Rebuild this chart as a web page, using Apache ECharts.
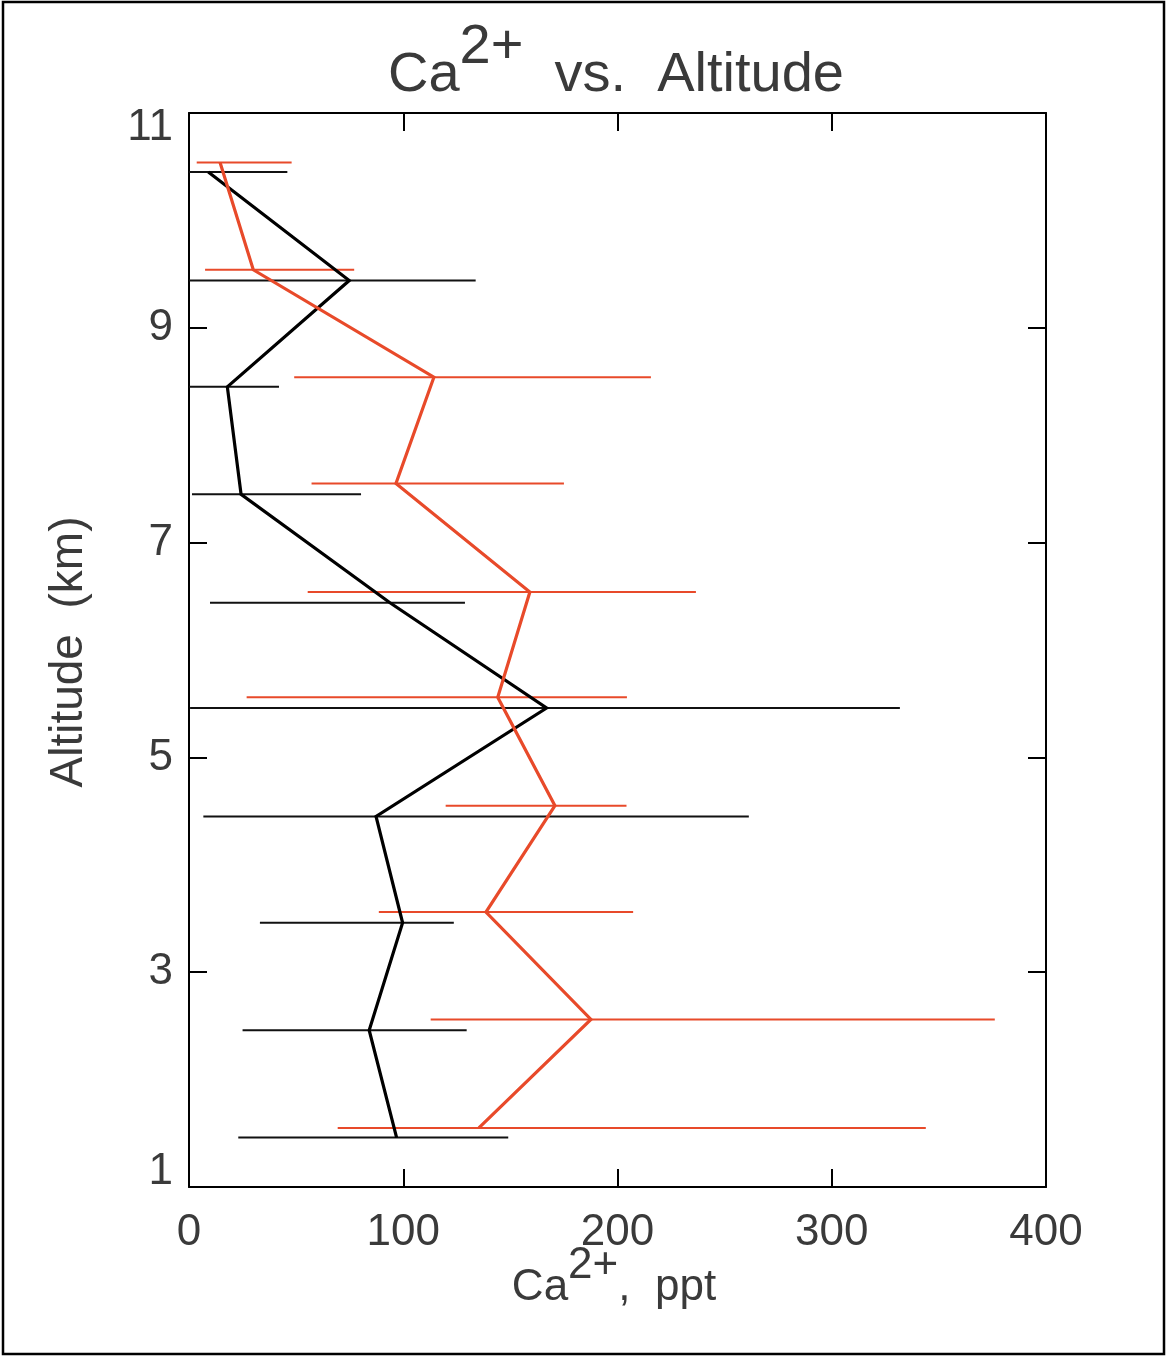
<!DOCTYPE html>
<html>
<head>
<meta charset="utf-8">
<script src="https://cdn.jsdelivr.net/npm/echarts@6/dist/echarts.min.js"></script>
<style>
html,body{margin:0;padding:0;background:#fff;}
#chart{width:1168px;height:1357px;}
</style>
</head>
<body>
<div id="chart"></div>
<script>
// ---- data ----
const xTicks = [0, 100, 200, 300, 400];
const yTicks = [1, 3, 5, 7, 9, 11];

// black profile
const altBlack = [10.45, 9.44, 8.45, 7.45, 6.44, 5.46, 4.45, 3.46, 2.46, 1.46];
const caBlack  = [9.0, 74.8, 17.9, 24.3, 93.8, 166.9, 87.3, 99.7, 84.1, 96.9];
const loBlack  = [0, 0, 0, 1.4, 9.8, 0.5, 6.7, 33.1, 25.0, 23.0];
const hiBlack  = [45.9, 133.8, 42.0, 80.3, 128.8, 331.8, 261.3, 123.6, 129.6, 149.0];

// red profile
const altRed = [10.54, 9.54, 8.54, 7.55, 6.54, 5.56, 4.55, 3.56, 2.56, 1.55];
const caRed  = [14.5, 30.0, 114.3, 96.6, 159.1, 144.1, 170.8, 138.6, 187.6, 135.3];
const loRed  = [3.6, 7.5, 49.1, 57.2, 55.4, 26.9, 119.8, 88.6, 112.8, 69.4];
const hiRed  = [47.9, 77.1, 215.6, 175.0, 236.6, 204.4, 204.2, 207.3, 376.1, 343.9];

// ---- chart ----
const FONT = 'Liberation Sans';
const TXT = '#3a3a3a';
const RED = '#e84a2a';

function errSeries(name, lo, hi, alt, color, width) {
  return {
    type: 'custom', name: name, clip: true, z: 3,
    xAxisIndex: 0, yAxisIndex: 0,
    data: alt.map((a, i) => [lo[i], hi[i], a]),
    encode: { x: [0, 1], y: 2 },
    renderItem: function (params, api) {
      const p1 = api.coord([api.value(0), api.value(2)]);
      const p2 = api.coord([api.value(1), api.value(2)]);
      return { type: 'line', shape: { x1: p1[0], y1: p1[1], x2: p2[0], y2: p2[1] },
               style: { stroke: color, lineWidth: width } };
    }
  };
}
function lineSeries(name, ca, alt, color) {
  return {
    type: 'line', name: name, xAxisIndex: 0, yAxisIndex: 0, z: 4,
    data: alt.map((a, i) => [ca[i], a]),
    showSymbol: false, symbol: 'none',
    lineStyle: { color: color, width: 3.2, join: 'miter' },
    itemStyle: { color: color }
  };
}

function axisLineStyle() { return { show: true, onZero: false, lineStyle: { color: '#000', width: 2 } }; }
function tickStyle() { return { show: true, inside: true, length: 18, lineStyle: { color: '#000', width: 2 } }; }
const labelBase = { fontFamily: FONT, fontSize: 44, color: TXT };

const chart = echarts.init(document.getElementById('chart'), null, { renderer: 'canvas' });
chart.setOption({
  backgroundColor: '#fff',
  animation: false,
  grid: { left: 189, top: 113, right: 122, bottom: 170, containLabel: false },
  xAxis: [
    { type: 'value', min: xTicks[0], max: xTicks[xTicks.length - 1], interval: 100, position: 'bottom',
      axisLine: axisLineStyle(), axisTick: tickStyle(), splitLine: { show: false },
      axisLabel: Object.assign({ margin: 24 }, labelBase) },
    { type: 'value', min: xTicks[0], max: xTicks[xTicks.length - 1], interval: 100, position: 'top',
      axisLine: axisLineStyle(), axisTick: tickStyle(), splitLine: { show: false },
      axisLabel: { show: false } }
  ],
  yAxis: [
    { type: 'value', min: yTicks[0], max: yTicks[yTicks.length - 1], interval: 2, position: 'left',
      axisLine: axisLineStyle(), axisTick: tickStyle(), splitLine: { show: false },
      axisLabel: Object.assign({ margin: 16,
        formatter: function (v) {
          if (v === yTicks[yTicks.length - 1]) return '{t|' + v + '}';
          if (v === yTicks[0]) return '{b|' + v + '}';
          return String(v);
        },
        rich: {
          t: { fontFamily: FONT, fontSize: 44, color: TXT, padding: [30, 0, 0, 0] },
          b: { fontFamily: FONT, fontSize: 44, color: TXT, padding: [0, 0, 30, 0] }
        }
      }, labelBase) },
    { type: 'value', min: yTicks[0], max: yTicks[yTicks.length - 1], interval: 2, position: 'right',
      axisLine: axisLineStyle(), axisTick: tickStyle(), splitLine: { show: false },
      axisLabel: { show: false } }
  ],
  series: [
    errSeries('black err', loBlack, hiBlack, altBlack, '#111', 2),
    errSeries('red err', loRed, hiRed, altRed, RED, 2),
    lineSeries('black', caBlack, altBlack, '#000'),
    lineSeries('red', caRed, altRed, RED)
  ],
  graphic: [
    { type: 'rect', silent: true, z: 100,
      shape: { x: 3, y: 2, width: 1161, height: 1352 },
      style: { fill: 'none', stroke: '#000', lineWidth: 2.5 } },
    { type: 'text', silent: true, z: 100, x: 616, y: 20,
      style: {
        text: '{m|Ca}{s|2+}{m|  vs.  Altitude}',
        align: 'center', verticalAlign: 'top', fill: TXT,
        rich: {
          m: { fontFamily: FONT, fontSize: 56, fill: TXT, lineHeight: 112, verticalAlign: 'middle' },
          s: { fontFamily: FONT, fontSize: 56, fill: TXT, lineHeight: 56, verticalAlign: 'top' }
        }
      } },
    { type: 'text', silent: true, z: 100, x: 614, y: 1244,
      style: {
        text: '{m|Ca}{s|2+}{m|,  ppt}',
        align: 'center', verticalAlign: 'top', fill: TXT,
        rich: {
          m: { fontFamily: FONT, fontSize: 44, fill: TXT, lineHeight: 88, verticalAlign: 'middle' },
          s: { fontFamily: FONT, fontSize: 44, fill: TXT, lineHeight: 44, verticalAlign: 'top' }
        }
      } },
    { type: 'text', silent: true, z: 100, x: 69, y: 652, rotation: Math.PI / 2,
      style: {
        text: 'Altitude  (km)', align: 'center', verticalAlign: 'middle',
        fontFamily: FONT, fontSize: 46, fill: TXT
      } }
  ]
});
</script>
</body>
</html>
